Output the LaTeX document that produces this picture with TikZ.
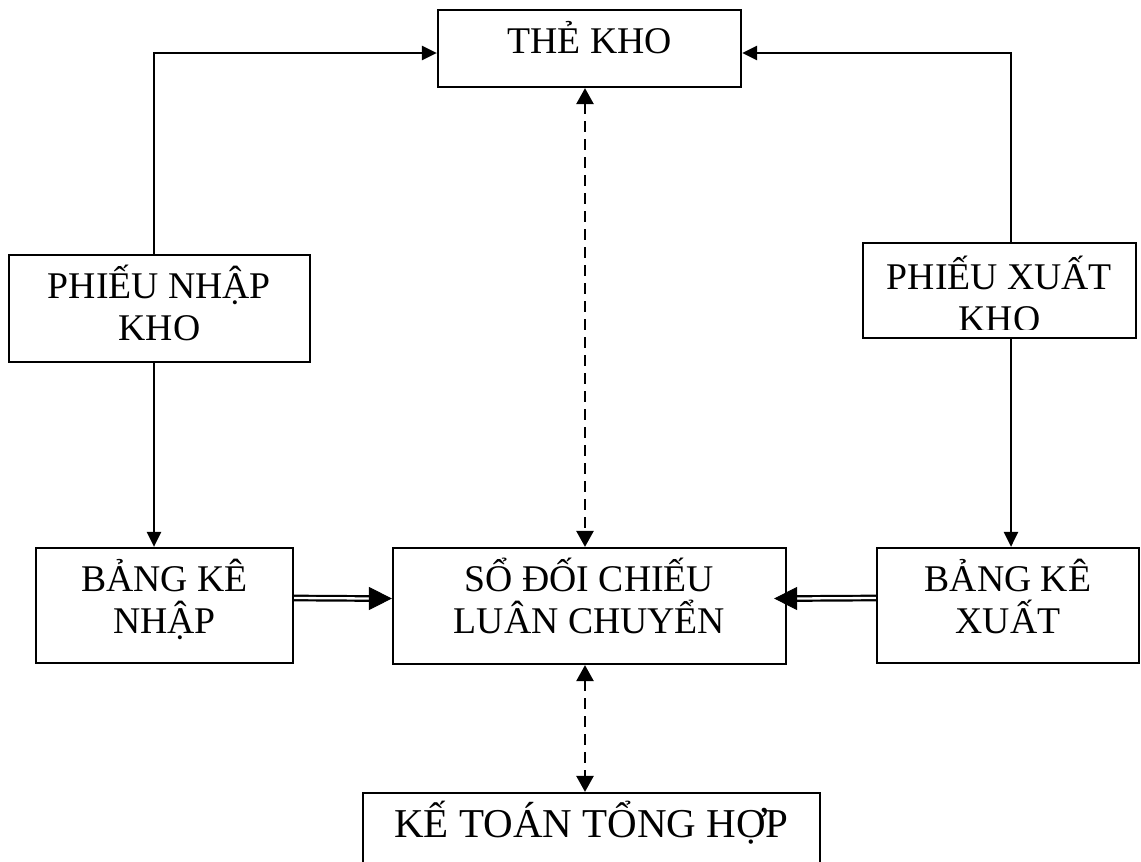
\documentclass[tikz,border=0pt]{standalone}
\usepackage{fontspec}
\setmainfont{Liberation Serif}
\usetikzlibrary{arrows.meta,calc}

% two centred lines, baseline of the node = baseline of the first line
\newcommand{\twolines}[2]{\parbox[t]{420pt}{\lineskiplimit=-100pt\centering #1\\#2}}

\begin{document}
\begin{tikzpicture}[x=1pt,y=-1pt,
  box/.style={draw, line width=2.2pt, rectangle, inner sep=0pt},
  lbl/.style={anchor=base, inner sep=0pt, font=\fontsize{37.7}{42}\selectfont},
  flow/.style={line width=2.6pt, -{Triangle[length=15pt,width=14pt]}},
  sync/.style={line width=2.5pt, dash pattern=on 11pt off 7pt,
    {Triangle[length=16pt,width=17pt]}-{Triangle[length=16pt,width=17pt]}},
  dbl/.style={double, double distance=2.3pt, line width=2.2pt},
  bigtip/.style={line width=1pt, -{Triangle[length=23pt,width=23pt]}}
]
\useasboundingbox (0,0) rectangle (1141,862);
\fill[white] (0,0) rectangle (1141,862);
\clip (0,0) rectangle (1141,862);

% boxes
\node[box, minimum width=303pt, minimum height=77pt]  (tk)  at (589.5,48.5) {};
\node[box, minimum width=301pt, minimum height=107pt] (pnk) at (159.5,308.5) {};
\node[box, minimum width=273pt, minimum height=95pt]  (pxk) at (999.5,290.5) {};
\node[box, minimum width=257pt, minimum height=115pt] (bkn) at (164.5,605.5) {};
\node[box, minimum width=393pt, minimum height=116pt] (so)  at (589.5,606) {};
\node[box, minimum width=262pt, minimum height=115pt] (bkx) at (1008,605.5) {};
\node[box, minimum width=457pt, minimum height=110pt] (kt)  at (591.5,848) {};

% labels, first baseline just below the top edge
\node[lbl] (tkT)  at ($(tk.north)+(0,45)$)  {THẺ KHO};
\node[lbl] (pnkT) at ($(pnk.north)+(0,45)$) {\twolines{PHIẾU NHẬP}{KHO}};
\begin{scope}
  % the second line runs past the inner margin and is cut off
  \clip (pxk.north west) rectangle ($(pxk.south east)+(0,-10)$);
  \node[lbl] (pxkT) at ($(pxk.north)+(0,48)$) {\twolines{PHIẾU XUẤT}{KHO}};
\end{scope}
\node[lbl] (bknT) at ($(bkn.north)+(0,45)$) {\twolines{BẢNG KÊ}{NHẬP}};
\node[lbl] (soT)  at ($(so.north)+(0,45)$)  {\twolines{SỔ ĐỐI CHIẾU}{LUÂN CHUYỂN}};
\node[lbl] (bkxT) at ($(bkx.north)+(0,45)$) {\twolines{BẢNG KÊ}{XUẤT}};
\node[lbl, font=\fontsize{41}{46}\selectfont] (ktT) at ($(kt.north)+(0,46)$) {KẾ TOÁN TỔNG HỢP};

% receipts and issues feed the stock card
\draw[flow] ([xshift=-5.5pt]pnk.north) |- ([yshift=-4.5pt]tk.west);
\draw[flow] ([xshift=11.5pt]pxk.north) |- ([yshift=-4.5pt]tk.east);

% receipts and issues feed the summary lists
\draw[flow] ([xshift=-5.5pt]pnk.south) -- ([xshift=-5.5pt]pnk.south |- bkn.north);
\draw[flow] ([xshift=11.5pt]pxk.south) -- ([xshift=11.5pt]pxk.south |- bkx.north);

% reconciliation links
\draw[sync] ([xshift=-4.5pt]tk.south) -- ([xshift=-4.5pt]so.north);
\draw[sync] ([xshift=-4.5pt]so.south) -- ([xshift=-4.5pt]so.south |- kt.north);

% double lines into the reconciliation ledger
\draw[dbl] ([yshift=7.5pt]bkn.east) -- ($([yshift=7.5pt]so.west)+(-21,0)$);
\draw[bigtip] ($([yshift=7.5pt]so.west)+(-23,0)$) -- ([yshift=7.5pt]so.west);
\draw[dbl] ([yshift=7.5pt]bkx.west) -- ($([yshift=7.5pt]so.east)+(8,0)$);
\draw[bigtip] ($([yshift=7.5pt]so.east)+(9,0)$) -- ($([yshift=7.5pt]so.east)+(-13,0)$);
\end{tikzpicture}
\end{document}
